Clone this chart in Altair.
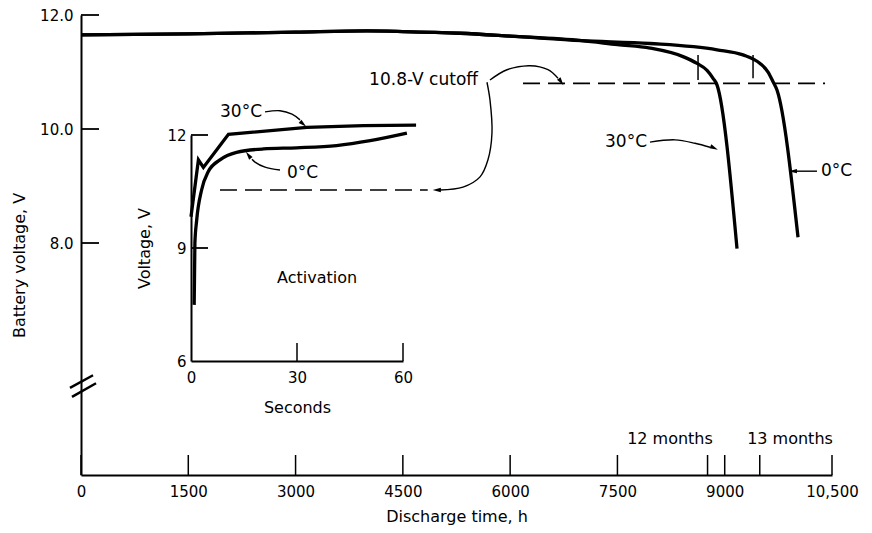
import altair as alt
import pandas as pd

FONT = "DejaVu Sans"

# ---------------- main chart values (hours, volts) ----------------
x_ticks = [0, 1500, 3000, 4500, 6000, 7500, 9000, 10500]
month_ticks = [8760, 9490]
y_ticks = [8.0, 10.0, 12.0]

common_h = [0, 1500, 3000, 4000, 4500, 5300, 6000, 7000]
common_v = [11.65, 11.67, 11.70, 11.72, 11.71, 11.68, 11.63, 11.55]
c30_h = [7500, 7956, 8417, 8613, 8753, 8837, 8893, 9172]
c30_v = [11.48, 11.42, 11.27, 11.15, 11.03, 10.89, 10.77, 7.90]
c0_h = [7956, 8893, 9256, 9494, 9606, 9676, 9732, 10025]
c0_v = [11.50, 11.39, 11.30, 11.15, 11.00, 10.83, 10.68, 8.10]

cutoff_h = [6180, 10403]
cutoff_v = [10.8, 10.8]

curve_mark_h = [8627, 9396]
curve_mark_top = [11.30, 11.30]
curve_mark_bot = [10.86, 10.89]

break_h1 = [-154, -126]
break_v1 = [5.46, 5.30]
break_h2 = [168, 210]
break_v2 = [5.68, 5.54]

# ---------------- inset values (seconds, volts) ----------------
inset_x_ticks = [0, 30, 60]
inset_y_ticks = [6, 9, 12]
i30_s = [0, 2.1, 3.5, 10.6, 32.8, 48.8, 63.7]
i30_v = [9.83, 11.34, 11.14, 12.02, 12.20, 12.25, 12.26]
i0_s = [0.9, 1.1, 1.6, 3.0, 4.9, 8.2, 12.9, 20.5, 29.9, 41.2, 50.7, 61.1]
i0_v = [7.49, 9.13, 9.73, 10.54, 11.03, 11.34, 11.54, 11.63, 11.66, 11.72, 11.85, 12.05]
inset_cutoff_s = [8.2, 67]
inset_cutoff_v = [10.54, 10.54]

# ---------------- annotations (main units) ----------------
text_center = ["Activation", "12 months", "13 months"]
text_center_h = [3300, 8235, 9913]
text_center_v = [7.39, 4.56, 4.56]
text_right = ["10.8-V cutoff", "30°C", "30°C"]
text_right_h = [5551, 2531, 7914]
text_right_v = [10.86, 10.30, 9.77]
text_left = ["0°C", "0°C"]
text_left_h = [2880, 10346]
text_left_v = [9.23, 9.26]

arrow_paths = {
    "A": ([5718, 5956, 6278, 6529, 6669], [10.86, 11.04, 11.11, 11.04, 10.89]),
    "B": ([5676, 5718, 5746, 5690, 5579, 5341, 5019], [10.82, 10.51, 9.93, 9.46, 9.16, 8.98, 8.93]),
    "I30": ([2573, 2782, 2950, 3062], [10.30, 10.32, 10.26, 10.16]),
    "I0": ([2782, 2573, 2433, 2391], [9.28, 9.33, 9.42, 9.47]),
    "M30": ([7955, 8305, 8585, 8794], [9.77, 9.81, 9.75, 9.68]),
    "M0": ([10290, 9983], [9.26, 9.26]),
}
head_h = [6711, 4977, 3104, 2342, 8850, 9955]
head_v = [10.83, 8.93, 10.09, 9.54, 9.67, 9.26]
head_angle = [145, 270, 130, 323, 115, 270]

# ---------------- tables ----------------
curves = pd.DataFrame(
    [{"h": h, "v": v, "series": "30°C"} for h, v in zip(common_h + c30_h, common_v + c30_v)]
    + [{"h": h, "v": v, "series": "0°C"} for h, v in zip(common_h + c0_h, common_v + c0_v)]
)
cutoff = pd.DataFrame({"h": cutoff_h, "v": cutoff_v})
cmarks = pd.DataFrame({"h": curve_mark_h, "v": curve_mark_top, "v2": curve_mark_bot})
xt = pd.DataFrame({"h": x_ticks + month_ticks})
yt = pd.DataFrame({"v": y_ticks})
brk = pd.DataFrame({"h": break_h1, "v": break_v1, "h2": break_h2, "v2": break_v2})
arrows = pd.DataFrame(
    [{"id": k, "i": i, "h": h, "v": v}
     for k, (hs, vs) in arrow_paths.items() for i, (h, v) in enumerate(zip(hs, vs))]
)
heads = pd.DataFrame({"h": head_h, "v": head_v, "a": head_angle})
tc = pd.DataFrame({"t": text_center, "h": text_center_h, "v": text_center_v})
tr = pd.DataFrame({"t": text_right, "h": text_right_h, "v": text_right_v})
tl = pd.DataFrame({"t": text_left, "h": text_left_h, "v": text_left_v})

i30 = pd.DataFrame({"s": i30_s, "v": i30_v})
i0 = pd.DataFrame({"s": i0_s, "v": i0_v})
icut = pd.DataFrame({"s": inset_cutoff_s, "v": inset_cutoff_v})
ixt = pd.DataFrame({"s": [30, 60]})
iyt = pd.DataFrame({"v": [9, 12]})

# ---------------- scales / axes ----------------
xs = alt.Scale(domain=[0, 10500], nice=False, zero=False)
ys = alt.Scale(domain=[3.93, 12.0], nice=False, zero=False)
x_axis = alt.Axis(values=x_ticks, labelExpr="datum.value == 10500 ? '10,500' : format(datum.value, 'd')",
                  ticks=False, grid=False, domainWidth=2, labelFontSize=15, labelPadding=9,
                  labelFlush=False, labelOverlap=False,
                  title="Discharge time, h", titleFontSize=16, titlePadding=9)
y_axis = alt.Axis(values=y_ticks, format=".1f", ticks=False, grid=False, domainWidth=2,
                  labelFontSize=15, labelPadding=8, labelFlush=False, labelOverlap=False,
                  title="Battery voltage, V", titleFontSize=16, titlePadding=12, titleY=250)

ixs = alt.Scale(domain=[0, 60], range=[110, 322], nice=False, zero=False)
iys = alt.Scale(domain=[6, 12], range=[346, 120], nice=False, zero=False)
ix_axis = alt.Axis(orient="bottom", offset=-114, values=inset_x_ticks, format="d", ticks=False,
                   grid=False, domainWidth=2, labelFontSize=15, labelPadding=9,
                   labelFlush=False, labelOverlap=False,
                   title="Seconds", titleFontSize=16, titlePadding=14)
iy_axis = alt.Axis(orient="left", offset=-110, values=inset_y_ticks, format="d", ticks=False,
                   grid=False, domainWidth=2, labelFontSize=15, labelPadding=5,
                   labelFlush=False, labelOverlap=False,
                   title="Voltage, V", titleFontSize=16, titlePadding=14)

X = lambda: alt.X("h:Q", scale=xs, axis=x_axis)
Y = lambda: alt.Y("v:Q", scale=ys, axis=y_axis)

ARROW = "M0,-1L0.5,0.9L-0.5,0.9Z"

main_layers = [
    alt.Chart(curves).mark_line(color="black", strokeWidth=3.3, interpolate="monotone").encode(
        x=X(), y=Y(), detail="series:N"),
    alt.Chart(cutoff).mark_line(color="black", strokeWidth=1.6, strokeDash=[17, 8]).encode(x=X(), y=Y()),
    alt.Chart(cmarks).mark_rule(color="black", strokeWidth=1.5).encode(x=X(), y=Y(), y2="v2:Q"),
    alt.Chart(xt).mark_rule(color="black", strokeWidth=1.5).encode(
        x=X(), y=alt.value(460), y2=alt.value(440)),
    alt.Chart(yt).mark_rule(color="black", strokeWidth=1.8).encode(
        y=Y(), x=alt.value(0), x2=alt.value(18)),
    alt.Chart(brk).mark_rule(color="black", strokeWidth=2.5).encode(
        x=X(), y=Y(), x2="h2:Q", y2="v2:Q"),
    alt.Chart(arrows).mark_line(color="black", strokeWidth=1.4, interpolate="catmull-rom").encode(
        x=X(), y=Y(), detail="id:N", order="i:Q"),
    alt.Chart(heads).mark_point(shape=ARROW, filled=True, color="black", size=75, opacity=1).encode(
        x=X(), y=Y(), angle=alt.Angle("a:Q", scale=None)),
    alt.Chart(tc).mark_text(align="center", baseline="middle", fontSize=16, font=FONT, color="black").encode(
        x=X(), y=Y(), text="t:N"),
    alt.Chart(tr).mark_text(align="right", baseline="middle", fontSize=17, font=FONT, color="black").encode(
        x=X(), y=Y(), text="t:N"),
    alt.Chart(tl).mark_text(align="left", baseline="middle", fontSize=17, font=FONT, color="black").encode(
        x=X(), y=Y(), text="t:N"),
]

IX = lambda: alt.X("s:Q", scale=ixs, axis=ix_axis)
IY = lambda: alt.Y("v:Q", scale=iys, axis=iy_axis)

inset_layers = [
    alt.Chart(i30).mark_line(color="black", strokeWidth=3.3).encode(x=IX(), y=IY()),
    alt.Chart(i0).mark_line(color="black", strokeWidth=3.3, interpolate="monotone").encode(x=IX(), y=IY()),
    alt.Chart(icut).mark_line(color="black", strokeWidth=1.6, strokeDash=[17, 8]).encode(x=IX(), y=IY()),
    alt.Chart(ixt).mark_rule(color="black", strokeWidth=1.5).encode(
        x=IX(), y=alt.value(346), y2=alt.value(328)),
    alt.Chart(iyt).mark_rule(color="black", strokeWidth=1.8).encode(
        y=IY(), x=alt.value(110), x2=alt.value(127)),
]

chart = alt.layer(alt.layer(*main_layers), alt.layer(*inset_layers)).resolve_scale(
    x="independent", y="independent"
).properties(
    width=751, height=460,
    padding={"left": 73, "top": 7, "right": 32, "bottom": 50},
    autosize=alt.AutoSizeParams(type="none"),
    background="white",
).configure_view(stroke=None).configure_axis(
    labelFont=FONT, titleFont=FONT, labelColor="black", titleColor="black",
    domainColor="black", titleFontWeight="normal",
)

chart.save("out.html", embed_options={"renderer": "svg", "actions": False})
